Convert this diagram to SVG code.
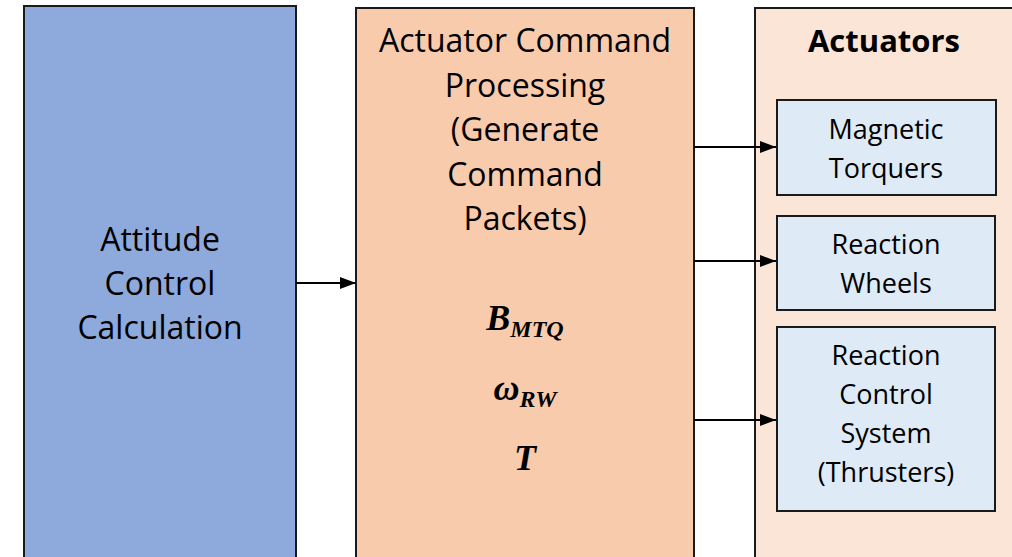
<svg xmlns="http://www.w3.org/2000/svg" width="1012" height="557" viewBox="0 0 1012 557">
<defs>
<style>
.box{stroke:#1a1a1a;stroke-width:2}
.t{font-family:"Open Sans","Noto Sans",sans-serif;fill:#000;text-anchor:middle}
.big{font-size:32px}
.sm{font-size:27px}
.m{font-family:"Liberation Serif","DejaVu Serif",serif;font-weight:bold;font-style:italic;text-anchor:middle;fill:#000}
.c{stroke:#000;stroke-width:2;fill:none;marker-end:url(#ah)}
</style>
<marker id="ah" viewBox="0 0 16 12" refX="16" refY="6" markerWidth="16" markerHeight="12" markerUnits="userSpaceOnUse" orient="auto">
<path d="M0,0 L16,6 L0,12 z" fill="#000"/>
</marker>
</defs>
<rect width="1012" height="557" fill="#fff"/>
<g id="attitude">
<rect class="box" x="24" y="6" width="272" height="552" fill="#8EA9DB"/>
<text class="t big" x="160" y="251">Attitude</text>
<text class="t big" x="160" y="295">Control</text>
<text class="t big" x="160" y="339">Calculation</text>
</g>
<g id="processing">
<rect class="box" x="356" y="8" width="338" height="550" fill="#F8CBAD"/>
<text class="t big" x="525" y="52">Actuator Command</text>
<text class="t big" x="525" y="97">Processing</text>
<text class="t big" x="525" y="141">(Generate</text>
<text class="t big" x="525" y="186">Command</text>
<text class="t big" x="525" y="230">Packets)</text>
<text class="m" x="525" y="330" font-size="36">B<tspan font-size="24" dy="7">MTQ</tspan></text>
<text class="m" x="525" y="400" font-size="36">ω<tspan font-size="24" dy="7">RW</tspan></text>
<text class="m" x="525" y="470" font-size="36">T</text>
</g>
<g id="actuators">
<rect class="box" x="755" y="8" width="270" height="550" fill="#FBE5D6"/>
<text class="t" x="884" y="52" font-size="31" font-weight="bold">Actuators</text>
</g>
<g id="mtq">
<rect class="box" x="777" y="100" width="219" height="95" fill="#DEEBF7"/>
<text class="t sm" x="886" y="139">Magnetic</text>
<text class="t sm" x="886" y="178">Torquers</text>
</g>
<g id="rw">
<rect class="box" x="777" y="216" width="218" height="94" fill="#DEEBF7"/>
<text class="t sm" x="886" y="254">Reaction</text>
<text class="t sm" x="886" y="293">Wheels</text>
</g>
<g id="rcs">
<rect class="box" x="777" y="327" width="218" height="184" fill="#DEEBF7"/>
<text class="t sm" x="886" y="365">Reaction</text>
<text class="t sm" x="886" y="404">Control</text>
<text class="t sm" x="886" y="443">System</text>
<text class="t sm" x="886" y="482">(Thrusters)</text>
</g>
<g id="connectors">
<line class="c" x1="296" y1="283" x2="356" y2="283"/>
<line class="c" x1="694" y1="147" x2="776" y2="147"/>
<line class="c" x1="694" y1="261" x2="776" y2="261"/>
<line class="c" x1="694" y1="420" x2="776" y2="420"/>
</g>
</svg>
